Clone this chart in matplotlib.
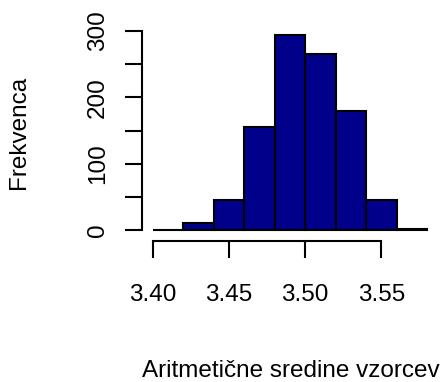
import matplotlib
matplotlib.use("Agg")
import matplotlib.pyplot as plt

bin_edges = [3.40, 3.42, 3.44, 3.46, 3.48, 3.50, 3.52, 3.54, 3.56, 3.58]
counts = [1, 11, 45, 156, 294, 265, 180, 46, 2]
x_ticks = [3.40, 3.45, 3.50, 3.55]
x_tick_labels = ["3.40", "3.45", "3.50", "3.55"]
y_ticks = [0, 50, 100, 150, 200, 250, 300]
y_tick_labels = ["0", "", "100", "", "200", "", "300"]
xlabel = "Aritmetične sredine vzorcev"
ylabel = "Frekvenca"

plt.rcParams['font.family'] = ['Liberation Sans', 'DejaVu Sans']
FS = 17.5

W, H = 446, 382
fig = plt.figure(figsize=(W / 100, H / 100), dpi=100)
ax = fig.add_axes([142 / W, 1 - 238 / H, (438 - 142) / W, (238 - 27) / H])

lefts = bin_edges[:-1]
widths = [bin_edges[i + 1] - bin_edges[i] for i in range(len(counts))]
ax.bar(lefts, counts, width=widths, align='edge', color='#00008B',
       edgecolor='black', linewidth=1.5)

rng = bin_edges[-1] - bin_edges[0]
ax.set_xlim(bin_edges[0] - 0.04 * rng, bin_edges[-1] + 0.04 * rng)
ymax = max(counts)
ax.set_ylim(-0.04 * ymax, ymax * 1.04)

for s in ['top', 'right']:
    ax.spines[s].set_visible(False)
ax.spines['left'].set_bounds(0, 300)
ax.spines['bottom'].set_bounds(3.40, 3.55)
ax.spines['bottom'].set_position(('outward', 2))
for s in ['left', 'bottom']:
    ax.spines[s].set_linewidth(1.5)

ax.set_xticks(x_ticks)
ax.set_xticklabels(x_tick_labels)
ax.set_yticks(y_ticks)
ax.set_yticklabels(y_tick_labels, rotation=90, va='center')
ax.tick_params(axis='x', length=12, width=1.5, labelsize=FS, pad=19)
ax.tick_params(axis='y', length=12, width=1.5, labelsize=FS, pad=12)

fig.text(291 / W, 1 - 371 / H, xlabel, ha='center', va='center', fontsize=FS)
fig.text(19 / W, 1 - 132 / H, ylabel, ha='center', va='center', fontsize=FS,
         rotation=90)

fig.savefig("out.png", dpi=100)
